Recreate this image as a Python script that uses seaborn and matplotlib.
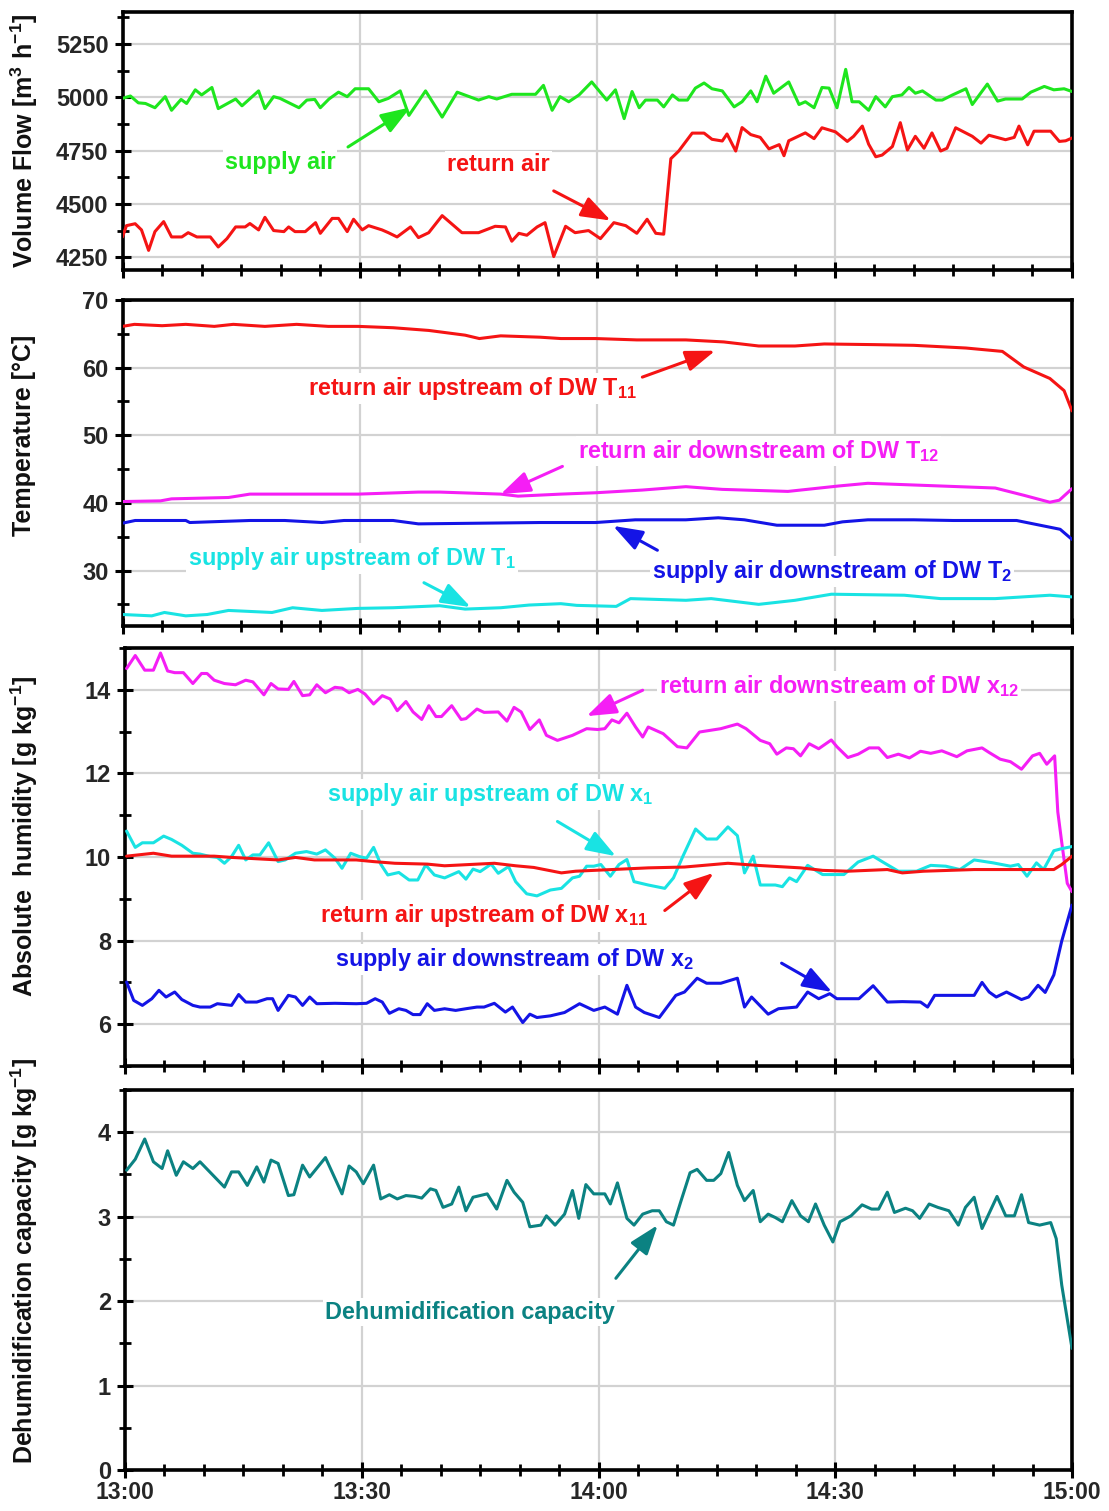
import numpy as np
import matplotlib
matplotlib.use("Agg")
import matplotlib.pyplot as plt
from matplotlib.ticker import MultipleLocator
import seaborn as sns

# ---------------- data (minutes after 13:00) ----------------
time_ticks = [0, 30, 60, 90, 120]
time_labels = ["13:00", "13:30", "14:00", "14:30", "15:00"]

t_supply_flow = [0, 1.0, 2.0, 2.9, 4.1, 5.4, 6.2, 7.4, 8.1, 9.2, 10.0, 11.3, 12.1, 14.3, 15.1, 17.2, 18.0,
                 19.1, 19.9, 22.3, 23.3, 24.3, 25.0, 26.1, 27.3, 28.4, 29.4, 31.1, 32.4, 33.6, 35.1, 36.2,
                 38.3, 40.4, 42.3, 45.0, 46.3, 47.3, 49.2, 52.2, 53.2, 54.3, 55.3, 56.4, 57.7, 59.3, 61.2,
                 62.3, 63.4, 64.4, 65.3, 66.1, 67.6, 68.4, 69.5, 70.3, 71.4, 72.4, 73.5, 74.5, 75.8, 77.3,
                 78.3, 79.4, 80.2, 81.3, 82.3, 84.2, 85.5, 86.3, 87.4, 88.4, 89.3, 90.3, 91.4, 92.2, 93.1,
                 94.3, 95.2, 96.4, 97.3, 98.5, 99.4, 100.2, 101.1, 102.8, 103.6, 104.9, 106.6, 107.4, 109.3,
                 110.6, 111.6, 113.7, 114.8, 116.5, 117.7, 119.0, 120.0]
supply_flow = [4995, 5006, 4974, 4971, 4951, 5003, 4939, 4990, 4971, 5035, 5011, 5046, 4947, 4992, 4960, 5030,
               4947, 5003, 4995, 4951, 4987, 4990, 4951, 4992, 5024, 5003, 5040, 5040, 4979, 4995, 5030, 4915,
               5030, 4907, 5024, 4987, 5003, 4992, 5014, 5014, 5056, 4939, 5003, 4979, 5011, 5072, 4987,
               5035, 4900, 5027, 4951, 4987, 4987, 4955, 5011, 4987, 4987, 5043, 5067, 5040, 5030, 4955,
               4979, 5030, 4979, 5099, 5019, 5072, 4966, 4979, 4951, 5046, 5043, 4951, 5131, 4979, 4979,
               4939, 5003, 4955, 5003, 5011, 5046, 5019, 5030, 4987, 4987, 5011, 5040, 4966, 5062,
               4982, 4992, 4992, 5024, 5051, 5035, 5040, 5027]

t_return_flow = [0, 0.5, 1.6, 2.4, 3.3, 4.1, 5.2, 6.2, 7.5, 8.3, 9.4, 11.1, 12.1, 13.2, 14.3, 15.5, 16.1, 17.2,
                 18.0, 19.1, 20.4, 21.0, 21.8, 23.1, 24.4, 25.0, 26.5, 27.3, 28.4, 29.2, 30.3, 31.1, 32.8,
                 33.6, 34.7, 36.4, 37.4, 38.7, 40.4, 42.9, 45.0, 47.1, 48.4, 49.2, 50.1, 51.1, 52.4, 53.4,
                 54.5, 56.0, 57.2, 58.9, 60.4, 62.1, 63.6, 65.0, 66.3, 67.4, 68.4, 69.3, 70.3, 72.0, 73.5,
                 74.5, 75.8, 76.4, 77.5, 78.3, 79.4, 80.6, 81.7, 83.0, 83.6, 84.2, 86.3, 87.4, 88.4, 90.1,
                 91.6, 92.4, 93.5, 94.3, 95.2, 96.0, 97.3, 98.3, 99.2, 100.2, 101.3, 102.3, 103.4, 104.2,
                 105.3, 107.4, 108.5, 109.5, 111.6, 112.7, 113.3, 114.4, 115.2, 117.3, 118.4, 119.2, 120]
return_flow = [4345, 4398, 4407, 4378, 4282, 4370, 4417, 4345, 4345, 4365, 4345, 4345, 4298, 4337, 4392, 4392,
               4408, 4378, 4437, 4375, 4370, 4392, 4370, 4370, 4412, 4362, 4432, 4432, 4370, 4428, 4378,
               4398, 4378, 4365, 4345, 4392, 4342, 4365, 4445, 4365, 4365, 4395, 4392, 4325, 4362, 4353,
               4392, 4412, 4253, 4395, 4365, 4375, 4337, 4412, 4398, 4362, 4428, 4362, 4358, 4712, 4748,
               4832, 4832, 4803, 4795, 4828, 4748, 4858, 4825, 4812, 4758, 4778, 4726, 4796, 4833, 4806,
               4857, 4838, 4793, 4817, 4865, 4780, 4721, 4729, 4769, 4881, 4753, 4817, 4761, 4833, 4748,
               4761, 4857, 4817, 4785, 4822, 4801, 4812, 4865, 4777, 4841, 4841, 4793, 4796, 4809]

t_T11 = [0, 1.5, 5, 8, 11.6, 14, 18, 22, 26, 29.8, 34.2, 38.7, 43.3, 45.1, 47.8, 52.8, 55.4, 59.8, 65, 71.2,
         76, 80.4, 85, 88.7, 95.1, 100, 106.6, 111.2, 113.9, 117.2, 119.0, 120]
T11 = [66.1, 66.4, 66.2, 66.4, 66.1, 66.4, 66.1, 66.4, 66.1, 66.1, 65.9, 65.5, 64.8, 64.3, 64.7, 64.5, 64.3,
       64.3, 64.1, 64.1, 63.8, 63.2, 63.2, 63.5, 63.4, 63.3, 62.9, 62.4, 60.1, 58.4, 56.6, 53.6]

t_T12 = [0, 4.8, 6.2, 13.4, 16.1, 29.8, 37.4, 40.1, 47.8, 50, 55.4, 59.8, 65.7, 71.2, 75.8, 84.1, 90.5, 94.2,
         103.4, 110.3, 114, 117.2, 118.4, 120]
T12 = [40.2, 40.3, 40.6, 40.8, 41.3, 41.3, 41.6, 41.6, 41.3, 41.0, 41.3, 41.5, 41.9, 42.4, 42.0, 41.7, 42.5,
       42.9, 42.5, 42.2, 41.1, 40.1, 40.4, 42.1]

t_T2 = [0, 1.6, 8, 8.5, 16.1, 20.5, 25.2, 28, 34.2, 37.4, 52.8, 59.8, 64.8, 71.2, 75.3, 78.6, 82.7, 88.7, 91,
        94.2, 100, 105, 113, 118.5, 120]
T2 = [37.0, 37.4, 37.4, 37.1, 37.4, 37.4, 37.1, 37.4, 37.4, 36.9, 37.1, 37.1, 37.5, 37.5, 37.8, 37.5, 36.7,
      36.7, 37.2, 37.5, 37.5, 37.4, 37.4, 36.1, 34.6]

t_T1 = [0, 3.7, 5.3, 8, 10.7, 13.4, 18.9, 21.5, 25.2, 29.7, 34.2, 40.1, 43.3, 47.8, 51.4, 55.4, 57.4, 62.4,
        64.2, 71.2, 74.4, 80.4, 85, 89.6, 98.8, 103.4, 110.3, 117.2, 120]
T1 = [23.5, 23.3, 23.8, 23.3, 23.5, 24.1, 23.8, 24.5, 24.1, 24.4, 24.5, 24.8, 24.3, 24.5, 24.9, 25.1, 24.85,
      24.7, 25.85, 25.6, 25.85, 25.0, 25.6, 26.5, 26.35, 25.85, 25.85, 26.35, 26.1]

t_x12 = [0.2, 1.3, 2.5, 3.6, 4.5, 5.4, 6.3, 7.4, 8.6, 9.7, 10.4, 11.3, 12.6, 14.0, 15.3, 16.2, 17.6, 18.5,
         19.4, 20.7, 21.4, 22.5, 23.4, 24.3, 25.4, 26.6, 27.5, 28.4, 29.5, 30.4, 31.5, 32.6, 33.6, 34.5,
         35.6, 36.5, 37.6, 38.5, 39.4, 40.1, 41.4, 42.6, 43.2, 44.6, 45.5, 47.3, 48.4, 49.3, 50.2, 51.3,
         52.5, 53.4, 54.8, 56.7, 58.5, 59.9, 60.8, 61.7, 62.6, 63.6, 64.7, 65.6, 66.3, 68.2, 70.0, 71.2,
         72.8, 75.5, 77.6, 78.7, 80.5, 81.7, 82.6, 83.8, 84.7, 85.6, 86.7, 87.9, 89.5, 90.2, 91.6, 92.9,
         94.3, 95.5, 96.6, 98.0, 99.4, 100.8, 102.1, 103.5, 105.4, 106.7, 108.6, 109.5, 110.9, 112.2,
         113.6, 115.0, 115.9, 116.8, 117.8, 118.2, 118.7, 119.4, 120]
x12 = [14.51, 14.82, 14.47, 14.47, 14.88, 14.45, 14.41, 14.41, 14.15, 14.39, 14.39, 14.23, 14.15, 14.12,
       14.23, 14.19, 13.88, 14.15, 14.02, 14.01, 14.20, 13.86, 13.88, 14.12, 13.93, 14.06, 14.04, 13.93,
       14.01, 13.90, 13.66, 13.86, 13.78, 13.50, 13.72, 13.47, 13.29, 13.62, 13.36, 13.36, 13.62, 13.29,
       13.31, 13.54, 13.46, 13.47, 13.25, 13.58, 13.47, 13.05, 13.28, 12.91, 12.79, 12.91, 13.07, 13.05,
       13.07, 13.28, 13.21, 13.44, 13.11, 12.87, 13.11, 12.95, 12.64, 12.61, 12.99, 13.07, 13.18, 13.07,
       12.79, 12.71, 12.46, 12.61, 12.59, 12.42, 12.71, 12.59, 12.80, 12.64, 12.38, 12.46, 12.61, 12.61,
       12.38, 12.46, 12.37, 12.53, 12.48, 12.54, 12.40, 12.54, 12.61, 12.50, 12.34, 12.28, 12.10, 12.42,
       12.48, 12.22, 12.42, 11.08, 10.35, 9.37, 9.17]

t_x1 = [0.2, 1.3, 2.2, 3.6, 4.9, 5.9, 7.2, 8.6, 9.5, 10.8, 11.7, 12.6, 13.5, 14.4, 15.3, 16.2, 17.1, 18.2,
        19.4, 20.3, 21.6, 23.0, 24.3, 25.4, 26.6, 27.5, 28.6, 29.7, 30.6, 31.5, 32.4, 33.3, 34.7, 36.0,
        37.1, 38.1, 39.2, 40.5, 42.3, 43.2, 44.1, 45.0, 46.4, 47.3, 48.6, 49.5, 50.9, 52.2, 53.9, 55.3,
        56.7, 57.6, 58.5, 59.4, 60.3, 61.5, 62.6, 63.6, 64.5, 66.3, 68.4, 69.5, 70.7, 72.3, 73.7, 75.0,
        76.4, 77.6, 78.5, 79.6, 80.5, 82.4, 83.3, 84.2, 85.1, 86.5, 88.4, 89.7, 91.1, 92.9, 94.8, 96.2,
        98.0, 100.3, 102.1, 104.0, 105.8, 107.6, 110.0, 112.2, 113.2, 114.3, 115.5, 116.4, 117.7, 118.7, 120]
x1 = [10.62, 10.23, 10.34, 10.34, 10.50, 10.42, 10.28, 10.09, 10.07, 10.01, 9.99, 9.85, 10.01, 10.28, 9.93,
      10.05, 10.05, 10.34, 9.89, 9.93, 10.09, 10.13, 10.07, 10.17, 9.97, 9.73, 10.09, 10.01, 9.97, 10.23,
      9.83, 9.57, 9.63, 9.45, 9.45, 9.81, 9.57, 9.50, 9.65, 9.47, 9.71, 9.65, 9.83, 9.61, 9.77, 9.41, 9.12,
      9.07, 9.21, 9.25, 9.50, 9.54, 9.78, 9.78, 9.82, 9.54, 9.82, 9.94, 9.41, 9.33, 9.25, 9.50, 10.02,
      10.67, 10.43, 10.43, 10.72, 10.51, 9.62, 10.02, 9.33, 9.33, 9.29, 9.50, 9.41, 9.80, 9.58, 9.58, 9.58,
      9.88, 10.02, 9.86, 9.66, 9.66, 9.80, 9.78, 9.70, 9.93, 9.86, 9.78, 9.82, 9.54, 9.86, 9.70, 10.15,
      10.20, 10.25]

t_x11 = [0.2, 3.6, 5.9, 11.3, 13.5, 19.4, 21.6, 24.0, 29.3, 31.5, 34.2, 38.3, 40.5, 46.8, 49.5, 51.8, 55.3,
         57.1, 61.7, 66.3, 70.9, 76.4, 80.1, 85.6, 88.4, 91.6, 96.6, 98.5, 101.2, 107.6, 112.2, 117.7,
         118.7, 120]
x11 = [10.02, 10.09, 10.02, 10.02, 9.99, 9.93, 9.99, 9.93, 9.93, 9.89, 9.85, 9.83, 9.79, 9.85, 9.79, 9.75,
       9.62, 9.66, 9.70, 9.74, 9.76, 9.85, 9.80, 9.74, 9.68, 9.66, 9.70, 9.62, 9.66, 9.70, 9.70, 9.70,
       9.82, 10.02]

t_x2 = [0.2, 1.1, 2.2, 3.4, 4.3, 5.2, 6.3, 7.2, 8.6, 9.5, 10.8, 11.7, 13.5, 14.4, 15.3, 16.7, 18.0, 18.7,
        19.4, 20.7, 21.6, 22.5, 23.4, 24.3, 26.6, 29.3, 30.6, 31.7, 32.6, 33.5, 34.7, 35.6, 36.5, 37.4,
        38.3, 39.2, 40.5, 41.9, 43.2, 44.6, 45.5, 46.8, 48.2, 49.1, 50.4, 51.3, 52.2, 53.9, 55.7, 57.6,
        59.4, 60.8, 62.4, 63.6, 64.7, 65.8, 67.7, 69.8, 70.9, 72.5, 73.7, 75.5, 77.6, 78.5, 79.4, 81.5,
        82.8, 85.1, 86.5, 87.9, 89.3, 90.2, 93.0, 94.8, 96.6, 98.5, 100.8, 101.7, 102.6, 105.8, 107.6,
        108.6, 109.5, 110.4, 111.7, 113.6, 114.5, 115.7, 116.6, 117.7, 118.7, 120]
x2 = [7.01, 6.57, 6.45, 6.61, 6.81, 6.65, 6.77, 6.59, 6.45, 6.41, 6.41, 6.49, 6.45, 6.71, 6.53, 6.53, 6.61,
      6.61, 6.33, 6.69, 6.65, 6.45, 6.65, 6.49, 6.50, 6.49, 6.50, 6.61, 6.53, 6.26, 6.37, 6.33, 6.23,
      6.23, 6.49, 6.33, 6.37, 6.33, 6.37, 6.41, 6.41, 6.50, 6.29, 6.41, 6.04, 6.24, 6.16, 6.20, 6.28,
      6.49, 6.33, 6.41, 6.24, 6.93, 6.41, 6.28, 6.16, 6.69, 6.77, 7.10, 6.98, 6.98, 7.10, 6.41, 6.65,
      6.24, 6.37, 6.41, 6.77, 6.61, 6.73, 6.61, 6.61, 6.92, 6.53, 6.54, 6.53, 6.41, 6.69, 6.69, 6.69,
      7.00, 6.77, 6.65, 6.77, 6.59, 6.65, 6.93, 6.76, 7.18, 7.99, 8.85]

t_dehum = [0.2, 1.3, 2.5, 3.6, 4.7, 5.4, 6.5, 7.4, 8.6, 9.5, 12.6, 13.5, 14.4, 15.5, 16.7, 17.6, 18.5, 19.4,
           20.7, 21.4, 22.5, 23.4, 25.4, 27.5, 28.4, 29.3, 30.2, 31.5, 32.4, 33.5, 34.5, 35.6, 36.7, 37.6,
           38.7, 39.4, 40.3, 41.4, 42.3, 43.2, 44.1, 45.9, 47.1, 48.4, 49.3, 50.4, 51.3, 52.7, 53.4, 54.5,
           55.7, 56.7, 57.5, 58.4, 59.4, 60.8, 61.5, 62.4, 63.6, 64.5, 65.6, 66.8, 67.7, 68.6, 69.5, 70.4,
           71.6, 72.5, 73.7, 74.6, 75.5, 76.5, 77.6, 78.5, 79.6, 80.5, 81.5, 82.4, 83.3, 84.5, 85.6, 86.6,
           87.5, 88.6, 89.7, 90.6, 92.0, 93.4, 94.6, 95.5, 96.6, 97.5, 98.9, 99.8, 100.7, 101.9, 103.0,
           104.4, 105.6, 106.5, 107.6, 108.6, 110.5, 111.6, 112.7, 113.6, 114.5, 115.9, 117.3, 118.0,
           118.7, 120]
dehum = [3.55, 3.68, 3.92, 3.65, 3.57, 3.78, 3.49, 3.65, 3.57, 3.65, 3.35, 3.53, 3.53, 3.37, 3.59, 3.41,
         3.67, 3.63, 3.25, 3.26, 3.61, 3.47, 3.70, 3.27, 3.60, 3.53, 3.39, 3.61, 3.21, 3.26, 3.21, 3.25,
         3.24, 3.22, 3.33, 3.31, 3.11, 3.15, 3.35, 3.07, 3.23, 3.27, 3.09, 3.43, 3.29, 3.17, 2.88, 2.90,
         3.01, 2.90, 3.03, 3.31, 2.98, 3.38, 3.27, 3.27, 3.15, 3.40, 2.98, 2.90, 3.03, 3.07, 3.07, 2.94,
         2.90, 3.17, 3.52, 3.56, 3.43, 3.43, 3.51, 3.76, 3.37, 3.19, 3.31, 2.94, 3.03, 2.99, 2.94, 3.19,
         3.01, 2.94, 3.15, 2.90, 2.70, 2.94, 3.01, 3.14, 3.09, 3.09, 3.29, 3.05, 3.10, 3.07, 2.98, 3.15,
         3.11, 3.07, 2.90, 3.11, 3.23, 2.86, 3.24, 3.01, 3.01, 3.26, 2.93, 2.90, 2.93, 2.74, 2.19, 1.44]

# ---------------- style ----------------
GREEN = "#1ee61e"
RED = "#f51414"
MAGENTA = "#f51ef5"
CYAN = "#19e3e3"
BLUE = "#1414e6"
TEAL = "#0b8282"
GRID = "#d2d2d2"

sns.set_theme(style="white")
plt.rcParams["font.family"] = ["Liberation Sans", "DejaVu Sans"]
plt.rcParams["font.weight"] = "bold"
plt.rcParams["axes.labelweight"] = "bold"
plt.rcParams["mathtext.fontset"] = "custom"
plt.rcParams["mathtext.rm"] = "Liberation Sans:bold"
plt.rcParams["mathtext.it"] = "Liberation Sans:bold"
plt.rcParams["mathtext.bf"] = "Liberation Sans:bold"
plt.rcParams["mathtext.default"] = "rm"

W, H = 1109, 1511
fig = plt.figure(figsize=(W / 100, H / 100), dpi=100)


def px_axes(left, top, right, bottom):
    return fig.add_axes([left / W, 1 - bottom / H, (right - left) / W, (bottom - top) / H])


ax1 = px_axes(122.5, 12, 1072, 270)
ax2 = px_axes(122.5, 300, 1072, 626)
ax3 = px_axes(125, 648, 1072, 1066)
ax4 = px_axes(125, 1090, 1072, 1470)
axes = [ax1, ax2, ax3, ax4]

LW = 2.2


def draw(ax, t, v, c):
    sns.lineplot(x=t, y=v, ax=ax, color=c, linewidth=LW, estimator=None, sort=False, legend=False, zorder=3)


draw(ax1, t_supply_flow, supply_flow, GREEN)
draw(ax1, t_return_flow, return_flow, RED)
draw(ax2, t_T11, T11, RED)
draw(ax2, t_T12, T12, MAGENTA)
draw(ax2, t_T2, T2, BLUE)
draw(ax2, t_T1, T1, CYAN)
draw(ax3, t_x12, x12, MAGENTA)
draw(ax3, t_x1, x1, CYAN)
draw(ax3, t_x11, x11, RED)
draw(ax3, t_x2, x2, BLUE)
draw(ax4, t_dehum, dehum, TEAL)

ylims = [(4190, 5400), (21.8, 70), (5, 15), (0, 4.5)]
ymaj = [250, 10, 2, 1]
ymin = [125, 5, 1, 0.5]
ylabels = ["Volume Flow [m$^{3}$ h$^{-1}$]", "Temperature [°C]",
           "Absolute  humidity [g kg$^{-1}$]", "Dehumidification capacity [g kg$^{-1}$]"]
label_y = [0.5, 0.585, 0.55, 0.55]

for i, ax in enumerate(axes):
    ax.set_xlim(0, 120)
    ax.set_ylim(*ylims[i])
    ax.set_xticks(time_ticks)
    ax.xaxis.set_minor_locator(MultipleLocator(5))
    ax.yaxis.set_major_locator(MultipleLocator(ymaj[i]))
    ax.yaxis.set_minor_locator(MultipleLocator(ymin[i]))
    ax.grid(True, which="major", color=GRID, linewidth=1.6)
    ax.set_axisbelow(True)
    for s in ax.spines.values():
        s.set_linewidth(2.6)
        s.set_color("black")
        s.set_visible(True)
    ax.tick_params(which="major", direction="inout", length=12, width=2.2, color="black",
                   labelsize=17, pad=4)
    ax.tick_params(which="minor", direction="inout", length=8, width=2.0, color="black")
    ax.tick_params(axis="both", which="both", left=True, bottom=True, right=False, top=False)
    ax.set_ylabel(ylabels[i], fontsize=18, fontweight="bold", color="#111111")
    ax.yaxis.label.set_verticalalignment("center")
    left_px = 122.5 if i < 2 else 125
    ax.yaxis.set_label_coords((24 - left_px) / (1072 - left_px), label_y[i])
    ax.set_xlabel("")
    for lab in ax.get_yticklabels():
        lab.set_fontweight("bold")
    if i < 3:
        ax.tick_params(axis="x", labelbottom=False)
    else:
        ax.set_xticklabels(time_labels, fontsize=16.5, fontweight="bold")
        ax.tick_params(axis="x", pad=2)

ax1.set_yticks([4250, 4500, 4750, 5000, 5250])

FS = 16.8
BOX = dict(facecolor="white", edgecolor="none", pad=1.5)


def label(ax, t, v, text, c, tail, head):
    ax.text(t, v, text, color=c, fontsize=FS, fontweight="bold", ha="center", va="center",
            bbox=BOX, zorder=2)
    ax.annotate("", xy=head, xytext=tail,
                arrowprops=dict(arrowstyle="-|>,head_length=0.9,head_width=0.32", color=c, lw=2.2,
                                mutation_scale=20, shrinkA=0, shrinkB=0), zorder=4)


label(ax1, 19.9, 4695, "supply air", GREEN, (28.5, 4767), (36.4, 4953))
label(ax1, 47.5, 4685, "return air", RED, (54.5, 4561), (61.7, 4422))

label(ax2, 44.2, 56.9, "return air upstream of DW T$_{11}$", RED, (65.7, 58.6), (74.9, 62.5))
label(ax2, 80.4, 47.7, "return air downstream of DW T$_{12}$", MAGENTA, (55.6, 45.4), (47.8, 41.3))
label(ax2, 29.0, 31.8, "supply air upstream of DW T$_{1}$", CYAN, (38.1, 28.2), (44.0, 24.6))
label(ax2, 89.7, 29.9, "supply air downstream of DW T$_{2}$", BLUE, (67.6, 33.0), (62.0, 36.6))

label(ax3, 90.5, 14.09, "return air downstream of DW x$_{12}$", MAGENTA, (65.6, 13.99), (58.5, 13.37))
label(ax3, 46.3, 11.50, "supply air upstream of DW x$_{1}$", CYAN, (54.8, 10.85), (62.2, 10.02))
label(ax3, 45.5, 8.59, "return air upstream of DW x$_{11}$", RED, (68.4, 8.72), (74.6, 9.62))
label(ax3, 49.3, 7.54, "supply air downstream of DW x$_{2}$", BLUE, (83.2, 7.46), (89.6, 6.77))

label(ax4, 43.7, 1.87, "Dehumidification capacity", TEAL, (62.2, 2.27), (67.5, 2.90))

fig.savefig("out.png", dpi=100, facecolor="white")
